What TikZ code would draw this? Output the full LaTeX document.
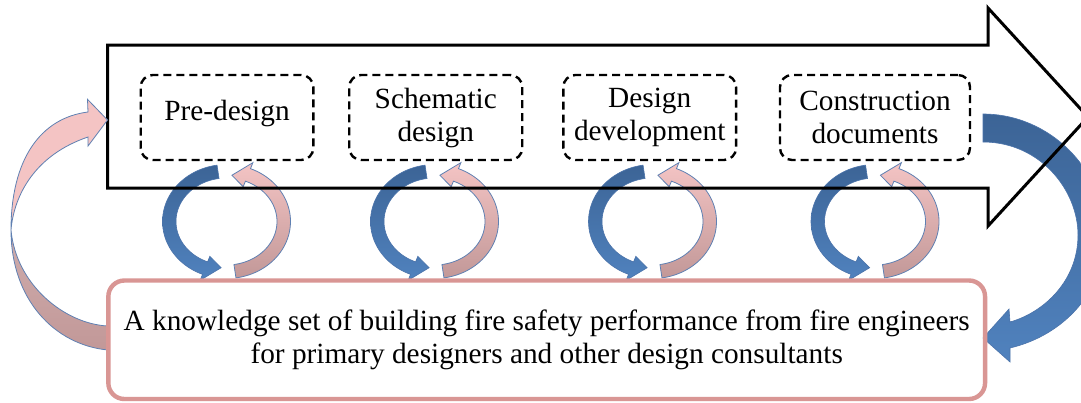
\documentclass[tikz,border=0pt]{standalone}
\usepackage{fontspec}
\setmainfont{Liberation Serif}
\definecolor{bluedark}{RGB}{60,100,150}
\definecolor{bluelight}{RGB}{80,130,190}
\definecolor{bluerim}{RGB}{75,115,170}
\definecolor{pinklight}{RGB}{244,196,196}
\definecolor{rosedark}{RGB}{194,152,152}
\definecolor{rimgray}{RGB}{95,128,178}
\definecolor{boxrose}{RGB}{217,150,148}
\begin{document}
\begin{tikzpicture}[x=1pt,y=-1pt,
  bigfont/.style={font=\fontsize{29.3}{33}\selectfont},
  stagebox/.style={draw=black, line width=2.4pt, dash pattern=on 8pt off 5pt,
    rounded corners=12pt, minimum height=85pt, align=center, inner sep=0pt, bigfont},
  knowbox/.style={draw=boxrose, line width=4.4pt, rounded corners=16pt,
    minimum width=876.7pt, minimum height=118.5pt, align=center, inner sep=0pt, bigfont},
  blueband/.style={draw=bluerim, line width=0.6pt, top color=bluedark, bottom color=bluelight},
  pinkband/.style={draw=rimgray, line width=0.8pt, top color=pinklight, bottom color=rosedark},
  ringpair/.pic={
    \path[blueband]
      plot[domain=261.5:112,samples=50] ({64*cos(\x)},{57*sin(\x)})
      -- ({70.5*cos(112)},{63.5*sin(112)})
      -- ({53.5*cos(95.8)},{46.5*sin(95.8)})
      -- ({44.5*cos(112)},{37.5*sin(112)})
      -- plot[domain=112:261.5,samples=50] ({50.5*cos(\x)},{43.5*sin(\x)}) -- cycle;
    \path[pinkband]
      plot[domain=81.5:-68,samples=50] ({64*cos(\x)},{57*sin(\x)})
      -- ({70.5*cos(-68)},{63.5*sin(-68)})
      -- ({53.5*cos(-84.2)},{46.5*sin(-84.2)})
      -- ({44.5*cos(-68)},{37.5*sin(-68)})
      -- plot[domain=-68:81.5,samples=50] ({50.5*cos(\x)},{43.5*sin(\x)}) -- cycle;
  }]
\clip (0,0) rectangle (1081,402);
\fill[white] (0,0) rectangle (1081,402);

% right blue curved arrow
\path[blueband]
  (983,114) .. controls (1050,114) and (1105,170) .. (1105,235)
  .. controls (1105,290) and (1065,335) .. (1010,348)
  -- (1010,362) -- (983,338) -- (1009,309) -- (1010,322)
  .. controls (1045,312) and (1078,280) .. (1078,235)
  .. controls (1078,190) and (1040,142) .. (983,142) -- cycle;

% ring arrow pairs
\foreach \cx in {226.5,434.5,652.5,875}
  \pic at (\cx,221.5) {ringpair};

% big process arrow
\draw[line width=3pt, line join=miter]
  (107.7,45) -- (988,45) -- (988,8) -- (1088,117) -- (988,226) -- (988,188) -- (107.7,188) -- cycle;

% stages
\node[stagebox, minimum width=172.6pt, text height=13pt, text depth=6.3pt] (stage1) at (227,117.5) {Pre-design};
\node[stagebox, minimum width=173pt] (stage2) at (435.75,117.5) {Schematic\\design};
\node[stagebox, minimum width=172.7pt] (stage3) at (649.7,117.5) {Design\\development};
\node[stagebox, minimum width=190pt] (stage4) at (875,117.5) {Construction\\documents};

% left curved arrow (pink upper, rose lower)
\path[draw=rimgray, line width=0.8pt, fill=pinklight]
  (88,112) -- (87.5,99.3) -- (107.5,120) -- (88,146) -- (88,137)
  .. controls (35,155) and (14,195) .. (11,230)
  .. controls (11,160) and (40,118) .. (88,112) -- cycle;
\path[draw=rimgray, line width=0.8pt, top color=rosedark!80!white, bottom color=rosedark]
  (11,230) .. controls (11,300) and (55,345) .. (108,350)
  -- (108,326) .. controls (65,324) and (16,285) .. (11,230) -- cycle;

% knowledge box
\node[knowbox] (know) at (546.7,339.75)
  {A knowledge set of building fire safety performance from fire engineers\\
   for primary designers and other design consultants};
\end{tikzpicture}
\end{document}
